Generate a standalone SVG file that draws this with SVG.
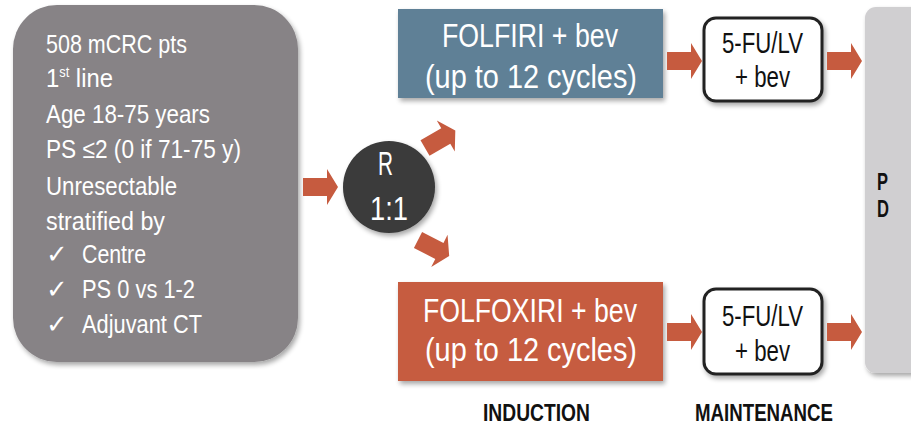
<svg xmlns="http://www.w3.org/2000/svg" width="911" height="425" viewBox="0 0 911 425">
<defs>
<style>
text{font-family:"Liberation Sans",Arial,sans-serif;}
.lt{font-size:26px;fill:#ffffff;}
.big{font-size:33px;fill:#ffffff;}
.mt{font-size:29px;fill:#111111;}
.lab{font-size:23px;font-weight:bold;fill:#111111;}
.arr{fill:#c65b3f;}
</style>
<filter id="sh" x="-10%" y="-10%" width="125%" height="125%">
<feGaussianBlur in="SourceAlpha" stdDeviation="2.5"/>
<feOffset dx="2" dy="3" result="b"/>
<feComponentTransfer><feFuncA type="linear" slope="0.35"/></feComponentTransfer>
<feMerge><feMergeNode/><feMergeNode in="SourceGraphic"/></feMerge>
</filter>
<path id="ar" d="M0,-9 L24,-9 L24,-18 L35,0 L24,18 L24,9 L0,9 Z"/>
</defs>
<rect width="911" height="425" fill="#ffffff"/>

<g id="patients">
<rect x="13" y="5" width="285" height="357" rx="44" fill="#878386" filter="url(#sh)"/>
<text class="lt" x="46" y="53" textLength="141" lengthAdjust="spacingAndGlyphs">508 mCRC pts</text>
<text class="lt" x="46" y="87" textLength="67" lengthAdjust="spacingAndGlyphs">1<tspan font-size="14" dy="-10">st</tspan><tspan dy="10"> line</tspan></text>
<text class="lt" x="46" y="123" textLength="164" lengthAdjust="spacingAndGlyphs">Age 18-75 years</text>
<text class="lt" x="46" y="158" textLength="195" lengthAdjust="spacingAndGlyphs">PS ≤2 (0 if 71-75 y)</text>
<text class="lt" x="46" y="195" textLength="131" lengthAdjust="spacingAndGlyphs">Unresectable</text>
<text class="lt" x="46" y="230" textLength="119" lengthAdjust="spacingAndGlyphs">stratified by</text>
<text class="lt" x="46" y="263">✓</text><text class="lt" x="82" y="263" textLength="64" lengthAdjust="spacingAndGlyphs">Centre</text>
<text class="lt" x="46" y="298">✓</text><text class="lt" x="82" y="298" textLength="113" lengthAdjust="spacingAndGlyphs">PS 0 vs 1-2</text>
<text class="lt" x="46" y="333">✓</text><text class="lt" x="82" y="333" textLength="120" lengthAdjust="spacingAndGlyphs">Adjuvant CT</text>
</g>

<g id="randomization">
<circle cx="389" cy="187" r="46" fill="#3a3a3a" filter="url(#sh)"/>
<text class="big" x="378" y="175" font-size="24" textLength="15" lengthAdjust="spacingAndGlyphs">R</text>
<text class="big" x="370" y="220" font-size="34" textLength="38" lengthAdjust="spacingAndGlyphs">1:1</text>
</g>

<g id="folfiri">
<rect x="398" y="9" width="265" height="89" fill="#5f8096" filter="url(#sh)"/>
<text class="big" x="442" y="47" textLength="176" lengthAdjust="spacingAndGlyphs">FOLFIRI + bev</text>
<text class="big" x="425" y="88" textLength="212" lengthAdjust="spacingAndGlyphs">(up to 12 cycles)</text>
</g>

<g id="folfoxiri">
<rect x="398" y="282" width="265" height="99" fill="#c65b3f" filter="url(#sh)"/>
<text class="big" x="423" y="322" textLength="214" lengthAdjust="spacingAndGlyphs">FOLFOXIRI + bev</text>
<text class="big" x="425" y="361" textLength="212" lengthAdjust="spacingAndGlyphs">(up to 12 cycles)</text>
</g>

<g id="maint-top">
<rect x="704" y="18" width="118" height="83" rx="12" fill="#ffffff" stroke="#222222" stroke-width="3" filter="url(#sh)"/>
<text class="mt" x="722" y="53" textLength="81" lengthAdjust="spacingAndGlyphs">5-FU/LV</text>
<text class="mt" x="735" y="87" textLength="55" lengthAdjust="spacingAndGlyphs">+ bev</text>
</g>

<g id="maint-bottom">
<rect x="704" y="289" width="118" height="85" rx="12" fill="#ffffff" stroke="#222222" stroke-width="3" filter="url(#sh)"/>
<text class="mt" x="722" y="326" textLength="81" lengthAdjust="spacingAndGlyphs">5-FU/LV</text>
<text class="mt" x="735" y="361" textLength="55" lengthAdjust="spacingAndGlyphs">+ bev</text>
</g>

<g id="pd">
<rect x="865" y="7" width="60" height="366" rx="11" fill="#d0cfd1" filter="url(#sh)"/>
<text class="lab" x="877" y="190" font-size="21" textLength="11" lengthAdjust="spacingAndGlyphs">P</text>
<text class="lab" x="877" y="217" font-size="21" textLength="12" lengthAdjust="spacingAndGlyphs">D</text>
</g>

<g id="connectors">
<use href="#ar" class="arr" transform="translate(303,187)"/>
<use href="#ar" class="arr" transform="translate(425,148) rotate(-30)"/>
<use href="#ar" class="arr" transform="translate(418,240) rotate(27)"/>
<use href="#ar" class="arr" transform="translate(667,61)"/>
<use href="#ar" class="arr" transform="translate(667,332)"/>
<use href="#ar" class="arr" transform="translate(827,61)"/>
<use href="#ar" class="arr" transform="translate(827,332)"/>
</g>

<g id="labels">
<text class="lab" x="483" y="421" textLength="107" lengthAdjust="spacingAndGlyphs">INDUCTION</text>
<text class="lab" x="695" y="421" textLength="138" lengthAdjust="spacingAndGlyphs">MAINTENANCE</text>
</g>
</svg>
